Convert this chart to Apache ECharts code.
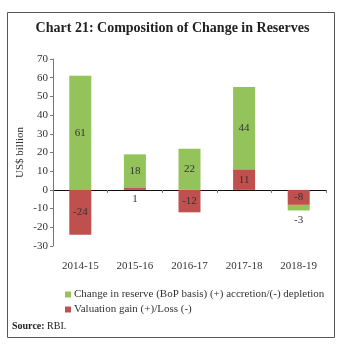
<!DOCTYPE html>
<html><head><meta charset="utf-8">
<script src="https://cdn.jsdelivr.net/npm/echarts@6/dist/echarts.min.js"></script>
<style>html,body{margin:0;padding:0;background:#fff}#c{width:345px;height:346px}</style>
</head><body><div id="c"></div>
<script>
const categories = ['2014-15','2015-16','2016-17','2017-18','2018-19'];
const changeInReserve = [61, 18, 22, 44, -3];
const valuationGain = [-24, 1, -12, 11, -8];
const yTicks = {min: -30, max: 70, interval: 10};
const nameGreen = 'Change in reserve (BoP basis) (+) accretion/(-) depletion';
const nameRed = 'Valuation gain (+)/Loss (-)';

const font = '"Liberation Serif", "DejaVu Serif", serif';
const chart = echarts.init(document.getElementById('c'), null, {renderer: 'canvas'});

function lbl(v, outside) {
  return outside ? {value: v, label: {position: 'bottom', distance: 4}} : v;
}
chart.setOption({
  animation: false,
  textStyle: {fontFamily: font},
  title: {
    text: 'Chart 21: Composition of Change in Reserves',
    left: 'center', top: 16,
    textStyle: {fontFamily: font, fontSize: 14, fontWeight: 'bold', color: '#222'}
  },
  graphic: [
    {type: 'rect', shape: {x: 7.5, y: 12.5, width: 327, height: 325}, style: {fill: 'none', stroke: '#555', lineWidth: 1}, z: -1},
    {type: 'text', left: 12, top: 321, style: {text: '{b|Source:} RBI.', rich: {b: {fontWeight: 'bold', fontFamily: font, fontSize: 10, fill: '#222'}}, fontFamily: font, fontSize: 10, fill: '#222'}}
  ],
  legend: {
    orient: 'vertical', left: 60, top: 284, itemWidth: 6, itemHeight: 6, itemGap: 4,
    icon: 'rect',
    data: [nameGreen, nameRed],
    textStyle: {fontFamily: font, fontSize: 11, color: '#333', padding: [0,0,0,-2]}
  },
  grid: {left: 53, right: 19, top: 59, bottom: 100},
  xAxis: [
    {type: 'category', data: categories, position: 'bottom',
     axisLine: {show: false, onZero: false}, axisTick: {show: false},
     axisLabel: {margin: 15, fontFamily: font, fontSize: 11, color: '#333'}},
    {type: 'category', data: categories, position: 'bottom', gridIndex: 0,
     axisLine: {show: true, onZero: true, lineStyle: {color: '#111', width: 1}},
     axisTick: {show: true, length: 3, lineStyle: {color: '#777'}},
     axisLabel: {show: false}}
  ],
  yAxis: {
    type: 'value', min: yTicks.min, max: yTicks.max, interval: yTicks.interval,
    name: 'US$ billion', nameLocation: 'middle', nameGap: 27, nameRotate: 90,
    nameMoveOverlap: false,
    nameTextStyle: {fontFamily: font, fontSize: 11, color: '#333'},
    axisLine: {show: true, lineStyle: {color: '#777'}},
    axisTick: {show: true, length: 3, lineStyle: {color: '#777'}},
    axisLabel: {fontFamily: font, fontSize: 11, color: '#333', margin: 5},
    splitLine: {show: false}
  },
  series: [
    {name: nameRed, type: 'bar', stack: 'total', xAxisIndex: 1, barWidth: 22,
     itemStyle: {color: '#c0504d'},
     label: {show: true, position: 'inside', fontFamily: font, fontSize: 11, color: '#333'},
     data: valuationGain.map((v, i) => lbl(v, Math.abs(v) < 3))},
    {name: nameGreen, type: 'bar', stack: 'total', xAxisIndex: 1, barWidth: 22,
     itemStyle: {color: '#93c35a'},
     label: {show: true, position: 'inside', fontFamily: font, fontSize: 11, color: '#333'},
     data: changeInReserve.map((v, i) => lbl(v, Math.abs(v) < 5))}
  ]
});
</script></body></html>
